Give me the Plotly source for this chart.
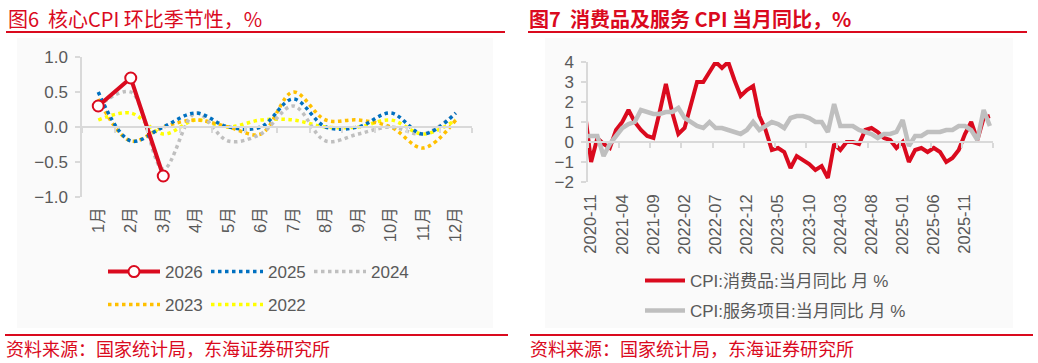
import pandas as pd
import plotly.graph_objects as go

W, H = 1038, 363

# ---------------- data: left panel (core CPI MoM, %) ----------------
months_cn = ["1月", "2月", "3月", "4月", "5月", "6月", "7月", "8月", "9月", "10月", "11月", "12月"]
core_2026 = [0.3, 0.7, -0.7]
core_2025 = [0.5, -0.2, 0.0, 0.2, 0.0, 0.0, 0.4, 0.0, 0.0, 0.2, -0.1, 0.2]
core_2024 = [0.3, 0.5, -0.6, 0.2, -0.2, -0.1, 0.3, -0.2, -0.1, 0.0, -0.1, 0.2]
core_2023 = [0.4, -0.2, 0.0, 0.1, 0.0, -0.1, 0.5, 0.1, 0.1, 0.0, -0.3, 0.1]
core_2022 = [0.1, 0.2, -0.1, 0.1, 0.0, 0.1, 0.1, 0.0, 0.0, 0.1, -0.1, 0.1]

# ---------------- data: right panel (YoY, %) ----------------
ym = [p.strftime("%Y-%m") for p in pd.period_range("2020-10", "2026-03", freq="M")]
goods_yoy = [1.5,
             -1.0, 0.2, -0.1, -0.3, 0.6, 1.0, 1.6, 1.0, 0.6, 0.3, 0.2, 1.5, 2.9, 1.5, 0.4, 0.7,
             1.8, 3.0, 3.0, 3.5, 4.0, 3.7, 4.0, 3.1, 2.3, 2.6, 2.8, 1.3, 0.6, -0.4, -0.3, -0.5,
             -1.3, -0.7, -0.9, -1.1, -1.4, -1.2, -1.8, -0.1, -0.4, 0.0, 0.0, -0.1, 0.6, 0.7,
             0.5, 0.2, 0.1, -0.3, 0.0, -1.0, -0.4, -0.3, -0.5, -0.3, -0.5, -1.0, -0.8, -0.4,
             0.4, 1.0, 0.1, 1.2, 1.3]
services_yoy = [0.3,
                0.3, 0.3, -0.7, -0.1, 0.3, 0.7, 0.9, 1.0, 1.6, 1.5, 1.4, 1.4, 1.5, 1.5, 1.7, 1.2,
                1.0, 0.8, 0.7, 1.0, 0.7, 0.7, 0.6, 0.5, 0.4, 0.6, 1.0, 0.6, 0.8, 1.0, 0.9, 0.7,
                1.2, 1.3, 1.3, 1.2, 1.0, 1.0, 0.5, 1.9, 0.8, 0.8, 0.8, 0.6, 0.5, 0.4, 0.2, 0.4,
                0.4, 0.5, 1.1, -0.2, 0.3, 0.3, 0.5, 0.5, 0.5, 0.6, 0.6, 0.8, 0.8, 0.6, 0.1, 1.6, 0.8]
right_ticks = ["2020-11", "2021-04", "2021-09", "2022-02", "2022-07", "2022-12", "2023-05",
               "2023-10", "2024-03", "2024-08", "2025-01", "2025-06", "2025-11"]

# ---------------- styles ----------------
RED = "#DA0A1E"
BLUE = "#0070C0"
GRAY = "#BFBFBF"
ORANGE = "#FFC000"
YELLOW = "#FFFF00"
AX = "#D9D9D9"
TXT = "#595959"
FONT = "Liberation Sans, Noto Sans CJK SC, sans-serif"
CJK = "Noto Sans CJK SC, Liberation Sans, sans-serif"


def fx(px):
    return px / W


def fy(py):
    return 1 - py / H


# plot-area pixel geometry
L = dict(x0=82, x1=472, top=57, bot=197)
R = dict(x0=588, x1=993, top=62, bot=182)
LY = [-1.0, 1.0]
RY = [-2, 4]

fig = go.Figure()

# left panel: dotted smooth series (drawn first), red 2026 on top
dotted = [
    ("2022", core_2022, YELLOW, "legend2", 5),
    ("2023", core_2023, ORANGE, "legend2", 4),
    ("2024", core_2024, GRAY, "legend", 3),
    ("2025", core_2025, BLUE, "legend", 2),
]
for name, vals, col, leg, rank in dotted:
    fig.add_trace(go.Scatter(
        x=months_cn, y=vals, name=name, mode="lines",
        line=dict(color=col, width=3.5, dash="dot", shape="spline", smoothing=1.0),
        xaxis="x", yaxis="y", legend=leg, legendrank=rank, hoverinfo="skip"))
fig.add_trace(go.Scatter(
    x=months_cn[:len(core_2026)], y=core_2026, name="2026", mode="lines+markers",
    line=dict(color=RED, width=4),
    marker=dict(symbol="circle", size=11, color="white", line=dict(color=RED, width=2)),
    xaxis="x", yaxis="y", legend="legend", legendrank=1, hoverinfo="skip"))

# right panel
fig.add_trace(go.Scatter(
    x=ym, y=goods_yoy, name="CPI:消费品:当月同比 月 %", mode="lines",
    line=dict(color=RED, width=4), xaxis="x2", yaxis="y2", legend="legend3",
    hoverinfo="skip"))
fig.add_trace(go.Scatter(
    x=ym, y=services_yoy, name="CPI:服务项目:当月同比 月 %", mode="lines",
    line=dict(color=GRAY, width=4.5), xaxis="x2", yaxis="y2", legend="legend4",
    hoverinfo="skip"))

# dummy traces so the zero-line tick axes exist
fig.add_trace(go.Scatter(x=[None], y=[None], xaxis="x3", yaxis="y", showlegend=False,
                         hoverinfo="skip"))
fig.add_trace(go.Scatter(x=[None], y=[None], xaxis="x4", yaxis="y2", showlegend=False,
                         hoverinfo="skip"))

Ldom_x = [fx(L["x0"]), fx(L["x1"])]
Ldom_y = [fy(L["bot"]), fy(L["top"])]
Rdom_x = [fx(R["x0"]), fx(R["x1"])]
Rdom_y = [fy(R["bot"]), fy(R["top"])]
L_zero = Ldom_y[0] + (0 - LY[0]) / (LY[1] - LY[0]) * (Ldom_y[1] - Ldom_y[0])
R_zero = Rdom_y[0] + (0 - RY[0]) / (RY[1] - RY[0]) * (Rdom_y[1] - Rdom_y[0])

tickfont = dict(family=FONT, size=17, color=TXT)
xtickfont = dict(family=FONT, size=16.5, color=TXT)

fig.update_layout(
    width=W, height=H,
    margin=dict(l=0, r=0, t=0, b=0, autoexpand=False),
    paper_bgcolor="white", plot_bgcolor="rgba(0,0,0,0)",
    font=dict(family=FONT, color=TXT),
    xaxis=dict(domain=Ldom_x, anchor="y", type="category", categoryorder="array",
               categoryarray=months_cn, range=[-0.5, 11.5], showline=False, ticks="",
               tickangle=-90, tickfont=xtickfont, showgrid=False, zeroline=False,
               ticklabelstandoff=6, automargin=False),
    yaxis=dict(domain=Ldom_y, anchor="x", range=LY, dtick=0.5, tickformat=".1f",
               showline=True, linecolor=AX, linewidth=1.5, ticks="outside", ticklen=5,
               tickcolor=AX, tickwidth=1.5, tickfont=tickfont, showgrid=False,
               zeroline=False, ticklabelstandoff=4, automargin=False),
    xaxis3=dict(overlaying="x", anchor="free", position=L_zero, type="linear",
                range=[-0.5, 11.5], tickmode="linear", tick0=-0.5, dtick=1,
                ticks="outside", ticklen=5, tickcolor=AX, tickwidth=1.5,
                showticklabels=False, showline=True, linecolor=AX, linewidth=1.5,
                showgrid=False, zeroline=False, automargin=False),
    xaxis2=dict(domain=Rdom_x, anchor="y2", type="category", categoryorder="array",
                categoryarray=ym, range=[0.5, len(ym) - 0.5], tickmode="array",
                tickvals=right_ticks, ticktext=right_ticks, showline=False, ticks="",
                tickangle=-90, tickfont=xtickfont, showgrid=False, zeroline=False,
                ticklabelstandoff=8, automargin=False),
    yaxis2=dict(domain=Rdom_y, anchor="x2", range=RY, dtick=1, showline=True,
                linecolor=AX, linewidth=1.5, ticks="outside", ticklen=5, tickcolor=AX,
                tickwidth=1.5, tickfont=tickfont, showgrid=False, zeroline=False,
                ticklabelstandoff=4, automargin=False),
    xaxis4=dict(overlaying="x2", anchor="free", position=R_zero, type="linear",
                range=[0.5, len(ym) - 0.5], tickmode="linear", tick0=0.5, dtick=5,
                ticks="outside", ticklen=5, tickcolor=AX, tickwidth=1.5,
                showticklabels=False, showline=True, linecolor=AX, linewidth=1.5,
                showgrid=False, zeroline=False, automargin=False),
    showlegend=True,
)

legfont = dict(family=FONT, size=17, color=TXT)
common_leg = dict(orientation="h", xanchor="left", yanchor="middle", font=legfont,
                  bgcolor="rgba(0,0,0,0)", itemwidth=52, entrywidth=36,
                  entrywidthmode="pixels", itemclick=False, itemdoubleclick=False)
right_leg = dict(orientation="h", xanchor="left", yanchor="middle", font=legfont,
                 bgcolor="rgba(0,0,0,0)", itemwidth=40, itemclick=False,
                 itemdoubleclick=False)
fig.update_layout(
    legend=dict(x=fx(103), y=fy(272), **common_leg),
    legend2=dict(x=fx(103), y=fy(305), **common_leg),
    legend3=dict(x=fx(640), y=fy(281), **right_leg),
    legend4=dict(x=fx(640), y=fy(311), **right_leg),
)

# decorations: faint chart-area backgrounds and red rules
shapes = [
    dict(type="rect", xref="paper", yref="paper", x0=fx(17), x1=fx(493), y0=fy(328),
         y1=fy(38), fillcolor="#FAFAFA", line=dict(width=0), layer="below"),
    dict(type="rect", xref="paper", yref="paper", x0=fx(545), x1=fx(1013), y0=fy(328),
         y1=fy(38), fillcolor="#FAFAFA", line=dict(width=0), layer="below"),
]
for x0, x1, yy in [(6, 505, 32), (528, 1027, 32), (5, 508, 335), (530, 1033, 335)]:
    shapes.append(dict(type="line", xref="paper", yref="paper", x0=fx(x0), x1=fx(x1),
                       y0=fy(yy), y1=fy(yy), line=dict(color=RED, width=2)))
fig.update_layout(shapes=shapes)

annotations = [
    dict(text="图6\u00a0\u00a0核心CPI 环比季节性，%", x=fx(6), y=fy(18)),
    dict(text="<b>图7\u00a0\u00a0消费品及服务 CPI 当月同比，%</b>", x=fx(527), y=fy(18)),
]
for a in annotations:
    a.update(xref="paper", yref="paper", xanchor="left", yanchor="middle", showarrow=False,
             font=dict(family=CJK, size=20, color=RED))
for xx in (4, 528):
    annotations.append(dict(text="资料来源：国家统计局，东海证券研究所", x=fx(xx), y=fy(348),
                            xref="paper", yref="paper", xanchor="left", yanchor="middle",
                            showarrow=False, font=dict(family=CJK, size=18, color=RED)))
fig.update_layout(annotations=annotations)

fig.write_html(
    "out.html",
    config={"displayModeBar": False},
    post_script="document.body.style.margin='0px';document.body.style.padding='0px';"
                "document.documentElement.style.overflow='hidden';",
)
